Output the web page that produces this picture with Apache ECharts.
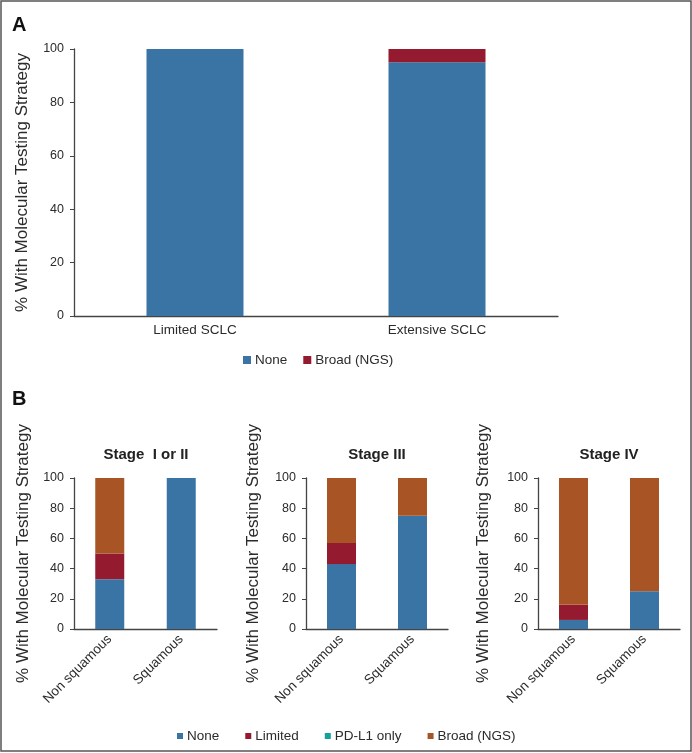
<!DOCTYPE html>
<html>
<head>
    <meta charset="UTF-8">
    <title>molecular testing</title>
    <script src="https://cdn.jsdelivr.net/npm/echarts@6/dist/echarts.min.js"></script>
    <style>
        html, body { margin: 0; padding: 0; background: #fff; }
        #chart { width: 692px; height: 753px; }
    </style>
</head>
<body>
<div id="chart"></div>
<script type="text/javascript">
    // panel A
    var groupsA = ['Limited SCLC', 'Extensive SCLC'];
    var noneA = [100, 95];
    var broadA = [0, 5];

    // panel B, one row per stage: [Non squamous, Squamous]
    var stages = ['Stage  I or II', 'Stage III', 'Stage IV'];
    var histology = ['Non squamous', 'Squamous'];
    var noneB = [[33, 100], [43, 75], [6, 25]];
    var limitedB = [[17, 0], [14, 0], [10, 0]];
    var pdl1B = [[0, 0], [0, 0], [0, 0]];
    var broadB = [[50, 0], [43, 25], [84, 75]];

    var yTicks = [0, 20, 40, 60, 80, 100];

    var colors = {
        none: '#3a74a4',
        limited: '#941b2f',
        pdl1: '#17a09c',
        broad: '#a95424'
    };
    var font = 'Liberation Sans, Arial, sans-serif';
    var txt = '#2b2b2b';
    var yName = '% With Molecular Testing Strategy';

    var myChart = echarts.init(document.getElementById('chart'));

    function yAxisOf(gridIndex, gap) {
        return {
            type: 'value',
            gridIndex: gridIndex,
            min: yTicks[0],
            max: yTicks[yTicks.length - 1],
            interval: yTicks[1] - yTicks[0],
            name: yName,
            nameLocation: 'middle',
            nameRotate: 90,
            nameGap: gap,
            nameTextStyle: { fontSize: 17, color: txt, fontFamily: font },
            axisLine: { show: true, lineStyle: { color: '#444', width: 1.3 } },
            axisTick: { show: true, length: 4, lineStyle: { color: '#444' } },
            axisLabel: { fontSize: 12.5, color: txt, fontFamily: font, margin: 10 },
            splitLine: { show: false }
        };
    }

    function xAxisOf(gridIndex, cats, rotate) {
        return {
            type: 'category',
            gridIndex: gridIndex,
            data: cats,
            axisLine: { show: true, lineStyle: { color: '#444', width: 1.3 } },
            axisTick: { show: false },
            axisLabel: {
                fontSize: 13.5, color: txt, fontFamily: font,
                rotate: rotate, margin: rotate ? 8 : 7, interval: 0
            }
        };
    }

    // grid positions, in px
    var grids = [
        { left: 74, top: 49, width: 484, height: 267 },
        { left: 74, top: 478, width: 143, height: 151 },
        { left: 306, top: 478, width: 142, height: 151 },
        { left: 538, top: 478, width: 142, height: 151 }
    ];
    var yGaps = [43, 42, 44, 46];
    var stageX = [146, 377, 609];

    var xAxes = [xAxisOf(0, groupsA, 0)];
    var yAxes = [yAxisOf(0, yGaps[0])];
    var series = [
        { name: 'None', type: 'bar', stack: 'a', xAxisIndex: 0, yAxisIndex: 0,
          barWidth: 97, itemStyle: { color: colors.none }, data: noneA },
        { name: 'Broad (NGS)', type: 'bar', stack: 'a', xAxisIndex: 0, yAxisIndex: 0,
          barWidth: 97, itemStyle: { color: colors.limited }, data: broadA }
    ];

    for (var i = 0; i < stages.length; i++) {
        xAxes.push(xAxisOf(i + 1, histology, 45));
        yAxes.push(yAxisOf(i + 1, yGaps[i + 1]));
        var st = 'b' + i;
        [['None', noneB, colors.none],
         ['Limited', limitedB, colors.limited],
         ['PD-L1 only', pdl1B, colors.pdl1],
         ['Broad (NGS)', broadB, colors.broad]].forEach(function (s) {
            series.push({
                name: s[0], type: 'bar', stack: st,
                xAxisIndex: i + 1, yAxisIndex: i + 1,
                barWidth: 29,
                itemStyle: { color: s[2] },
                data: s[1][i]
            });
        });
    }

    var graphics = [
        { type: 'rect', shape: { x: 1, y: 1, width: 690, height: 750 },
          style: { fill: 'none', stroke: '#555', lineWidth: 1.5 }, silent: true },
        { type: 'text', x: 12, y: 15,
          style: { text: 'A', font: 'bold 20px ' + font, fill: '#111' } },
        { type: 'text', x: 12, y: 389,
          style: { text: 'B', font: 'bold 20px ' + font, fill: '#111' } }
    ];
    stages.forEach(function (s, k) {
        graphics.push({
            type: 'text', x: stageX[k], y: 455,
            style: {
                text: s, font: 'bold 15px ' + font, fill: '#222',
                textAlign: 'center', align: 'center',
                textVerticalAlign: 'middle', verticalAlign: 'middle'
            }
        });
    });

    var option = {
        animation: false,
        backgroundColor: '#fff',
        grid: grids,
        xAxis: xAxes,
        yAxis: yAxes,
        legend: [
            {
                data: [
                    { name: 'None', itemStyle: { color: colors.none } },
                    { name: 'Broad (NGS)', itemStyle: { color: colors.limited } }
                ],
                left: 238, top: 348,
                itemWidth: 8, itemHeight: 8, itemGap: 16,
                icon: 'rect',
                textStyle: { fontSize: 13.5, color: txt, fontFamily: font, padding: [0, 0, 0, -1] },
                selectedMode: false
            },
            {
                data: [
                    { name: 'None', itemStyle: { color: colors.none } },
                    { name: 'Limited', itemStyle: { color: colors.limited } },
                    { name: 'PD-L1 only', itemStyle: { color: colors.pdl1 } },
                    { name: 'Broad (NGS)', itemStyle: { color: colors.broad } }
                ],
                left: 172, top: 724,
                itemWidth: 6, itemHeight: 6, itemGap: 26,
                icon: 'rect',
                textStyle: { fontSize: 13.5, color: txt, fontFamily: font, padding: [0, 0, 0, -1] },
                selectedMode: false
            }
        ],
        graphic: graphics,
        series: series
    };
    myChart.setOption(option);
</script>
</body>
</html>
